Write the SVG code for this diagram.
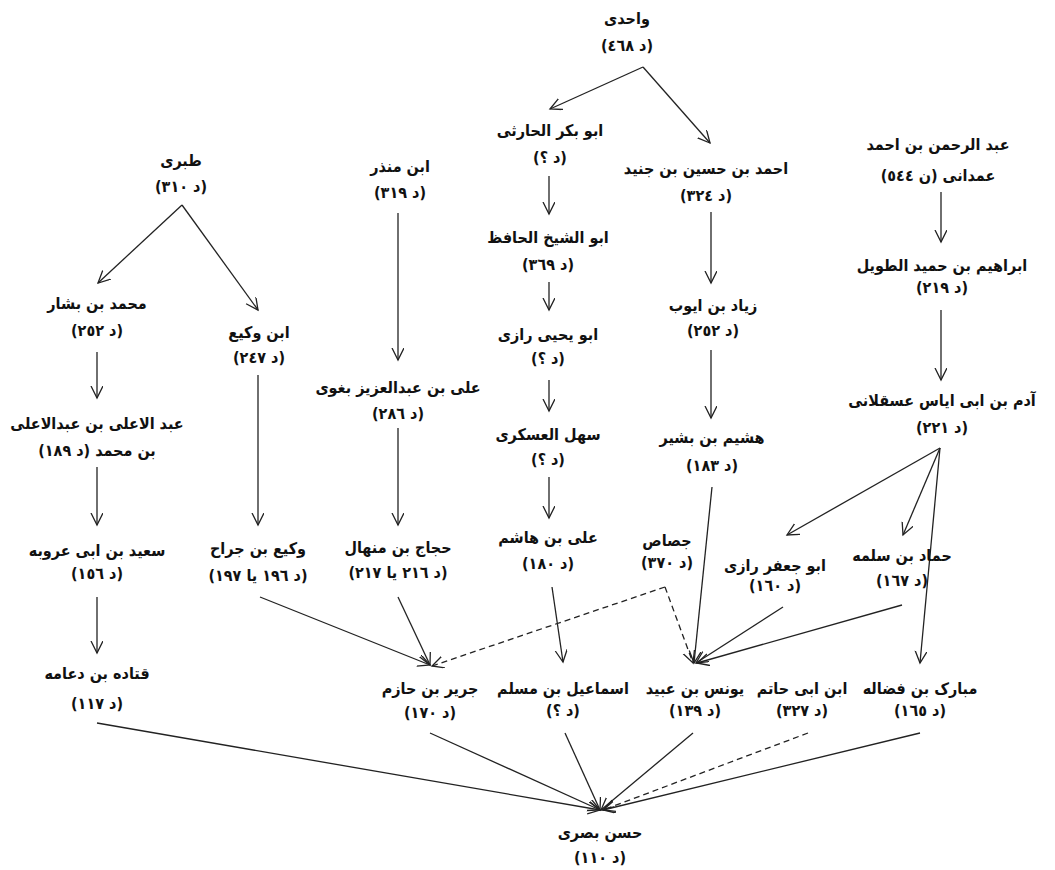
<svg xmlns="http://www.w3.org/2000/svg" width="1055" height="870" viewBox="0 0 1055 870">
<style>
.t{font-family:"DejaVu Sans Condensed","DejaVu Sans",sans-serif;font-weight:bold;font-size:16px;text-anchor:middle;direction:rtl;fill:#111}
.e{fill:none;stroke:#222;stroke-width:1.3}
.d{stroke-dasharray:6 4}
</style>
<defs>
<marker id="a" markerUnits="userSpaceOnUse" markerWidth="14" markerHeight="14" refX="12" refY="6" orient="auto">
<path d="M0,0 L12,6 L0,12" fill="none" stroke="#222" stroke-width="1.3"/>
</marker>
</defs>
<rect width="1055" height="870" fill="#fff"/>
<g id="connectors">
<path class="e" marker-end="url(#a)" d="M643,67 L550,109"/>
<path class="e" marker-end="url(#a)" d="M643,67 L710,143"/>
<path class="e" marker-end="url(#a)" d="M549,176 L549,214"/>
<path class="e" marker-end="url(#a)" d="M549,282 L549,310"/>
<path class="e" marker-end="url(#a)" d="M549,380 L549,411"/>
<path class="e" marker-end="url(#a)" d="M549,477 L549,518"/>
<path class="e" marker-end="url(#a)" d="M711,212 L711,283"/>
<path class="e" marker-end="url(#a)" d="M711,350 L711,418"/>
<path class="e" marker-end="url(#a)" d="M712,487 L694,663"/>
<path class="e" marker-end="url(#a)" d="M941,192 L941,242"/>
<path class="e" marker-end="url(#a)" d="M941,310 L941,380"/>
<path class="e" marker-end="url(#a)" d="M940,448 L787,535"/>
<path class="e" marker-end="url(#a)" d="M940,448 L903,535"/>
<path class="e" marker-end="url(#a)" d="M940,448 L920,663"/>
<path class="e" marker-end="url(#a)" d="M182,205 L98,283"/>
<path class="e" marker-end="url(#a)" d="M182,205 L258,310"/>
<path class="e" marker-end="url(#a)" d="M97,352 L97,398"/>
<path class="e" marker-end="url(#a)" d="M258,375 L258,525"/>
<path class="e" marker-end="url(#a)" d="M398,213 L398,360"/>
<path class="e" marker-end="url(#a)" d="M398,428 L398,525"/>
<path class="e" marker-end="url(#a)" d="M97,467 L97,525"/>
<path class="e" marker-end="url(#a)" d="M97,597 L97,653"/>
<path class="e" marker-end="url(#a)" d="M260,597 L430,665"/>
<path class="e" marker-end="url(#a)" d="M398,597 L430,665"/>
<path class="e d" marker-end="url(#a)" d="M665,587 L432,666"/>
<path class="e d" marker-end="url(#a)" d="M665,587 L693,663"/>
<path class="e" marker-end="url(#a)" d="M552,587 L563,662"/>
<path class="e" marker-end="url(#a)" d="M783,607 L696,663"/>
<path class="e" marker-end="url(#a)" d="M902,605 L697,663"/>
<path class="e" marker-end="url(#a)" d="M97,723 L600,810"/>
<path class="e" marker-end="url(#a)" d="M430,733 L600,810"/>
<path class="e" marker-end="url(#a)" d="M565,733 L600,810"/>
<path class="e" marker-end="url(#a)" d="M693,733 L601,810"/>
<path class="e d" marker-end="url(#a)" d="M808,733 L603,810"/>
<path class="e" marker-end="url(#a)" d="M920,733 L603,810"/>
</g>
<g id="n1"><text class="t" x="627" y="24">واحدی</text><text class="t" x="627" y="51">(د ٤٦٨)</text></g>
<g id="n2"><text class="t" x="550" y="136">ابو بکر الحارثی</text><text class="t" x="550" y="163">(د ؟)</text></g>
<g id="n3"><text class="t" x="706" y="174">احمد بن حسین بن جنید</text><text class="t" x="706" y="201">(د ٣٢٤)</text></g>
<g id="n4"><text class="t" x="938" y="150">عبد الرحمن بن احمد</text><text class="t" x="938" y="181">عمدانی (ن ٥٤٤)</text></g>
<g id="n5"><text class="t" x="181" y="166">طبری</text><text class="t" x="181" y="192">(د ٣١٠)</text></g>
<g id="n6"><text class="t" x="400" y="172">ابن منذر</text><text class="t" x="400" y="198">(د ٣١٩)</text></g>
<g id="n7"><text class="t" x="548" y="243">ابو الشیخ الحافظ</text><text class="t" x="548" y="270">(د ٣٦٩)</text></g>
<g id="n8"><text class="t" x="548" y="340">ابو یحیی رازی</text><text class="t" x="548" y="364">(د ؟)</text></g>
<g id="n9"><text class="t" x="713" y="311">زیاد بن ایوب</text><text class="t" x="713" y="336">(د ٢٥٢)</text></g>
<g id="n10"><text class="t" x="942" y="271">ابراهیم بن حمید الطویل</text><text class="t" x="942" y="293">(د ٢١٩)</text></g>
<g id="n11"><text class="t" x="97" y="309">محمد بن بشار</text><text class="t" x="97" y="336">(د ٢٥٢)</text></g>
<g id="n12"><text class="t" x="259" y="338">ابن وکیع</text><text class="t" x="259" y="363">(د ٢٤٧)</text></g>
<g id="n13"><text class="t" x="398" y="393">علی بن عبدالعزیز بغوی</text><text class="t" x="398" y="419">(د ٢٨٦)</text></g>
<g id="n14"><text class="t" x="548" y="440">سهل العسکری</text><text class="t" x="548" y="465">(د ؟)</text></g>
<g id="n15"><text class="t" x="942" y="406">آدم بن ابی ایاس عسقلانی</text><text class="t" x="942" y="433">(د ٢٢١)</text></g>
<g id="n16"><text class="t" x="712" y="443">هشیم بن بشیر</text><text class="t" x="712" y="471">(د ١٨٣)</text></g>
<g id="n17"><text class="t" x="97" y="429">عبد الاعلی بن عبدالاعلی</text><text class="t" x="97" y="456">بن محمد (د ١٨٩)</text></g>
<g id="n18"><text class="t" x="97" y="556">سعید بن ابی عروبه</text><text class="t" x="97" y="579">(د ١٥٦)</text></g>
<g id="n19"><text class="t" x="258" y="554">وکیع بن جراح</text><text class="t" x="258" y="581">(د ١٩٦ یا ١٩٧)</text></g>
<g id="n20"><text class="t" x="398" y="553">حجاج بن منهال</text><text class="t" x="398" y="578">(د ٢١٦ یا ٢١٧)</text></g>
<g id="n21"><text class="t" x="548" y="543">علی بن هاشم</text><text class="t" x="548" y="569">(د ١٨٠)</text></g>
<g id="n22"><text class="t" x="667" y="546">جصاص</text><text class="t" x="667" y="568">(د ٣٧٠)</text></g>
<g id="n23"><text class="t" x="775" y="571">ابو جعفر رازی</text><text class="t" x="775" y="591">(د ١٦٠)</text></g>
<g id="n24"><text class="t" x="902" y="561">حماد بن سلمه</text><text class="t" x="902" y="586">(د ١٦٧)</text></g>
<g id="n25"><text class="t" x="97" y="679">قتاده بن دعامه</text><text class="t" x="97" y="709">(د ١١٧)</text></g>
<g id="n26"><text class="t" x="430" y="694">جریر بن حازم</text><text class="t" x="430" y="718">(د ١٧٠)</text></g>
<g id="n27"><text class="t" x="563" y="694">اسماعیل بن مسلم</text><text class="t" x="563" y="716">(د ؟)</text></g>
<g id="n28"><text class="t" x="695" y="694">یونس بن عبید</text><text class="t" x="695" y="716">(د ١٣٩)</text></g>
<g id="n29"><text class="t" x="802" y="694">ابن ابی حاتم</text><text class="t" x="802" y="716">(د ٣٢٧)</text></g>
<g id="n30"><text class="t" x="920" y="694">مبارک بن فضاله</text><text class="t" x="920" y="716">(د ١٦٥)</text></g>
<g id="n31"><text class="t" x="600" y="838">حسن بصری</text><text class="t" x="600" y="863">(د ١١٠)</text></g>
</svg>
